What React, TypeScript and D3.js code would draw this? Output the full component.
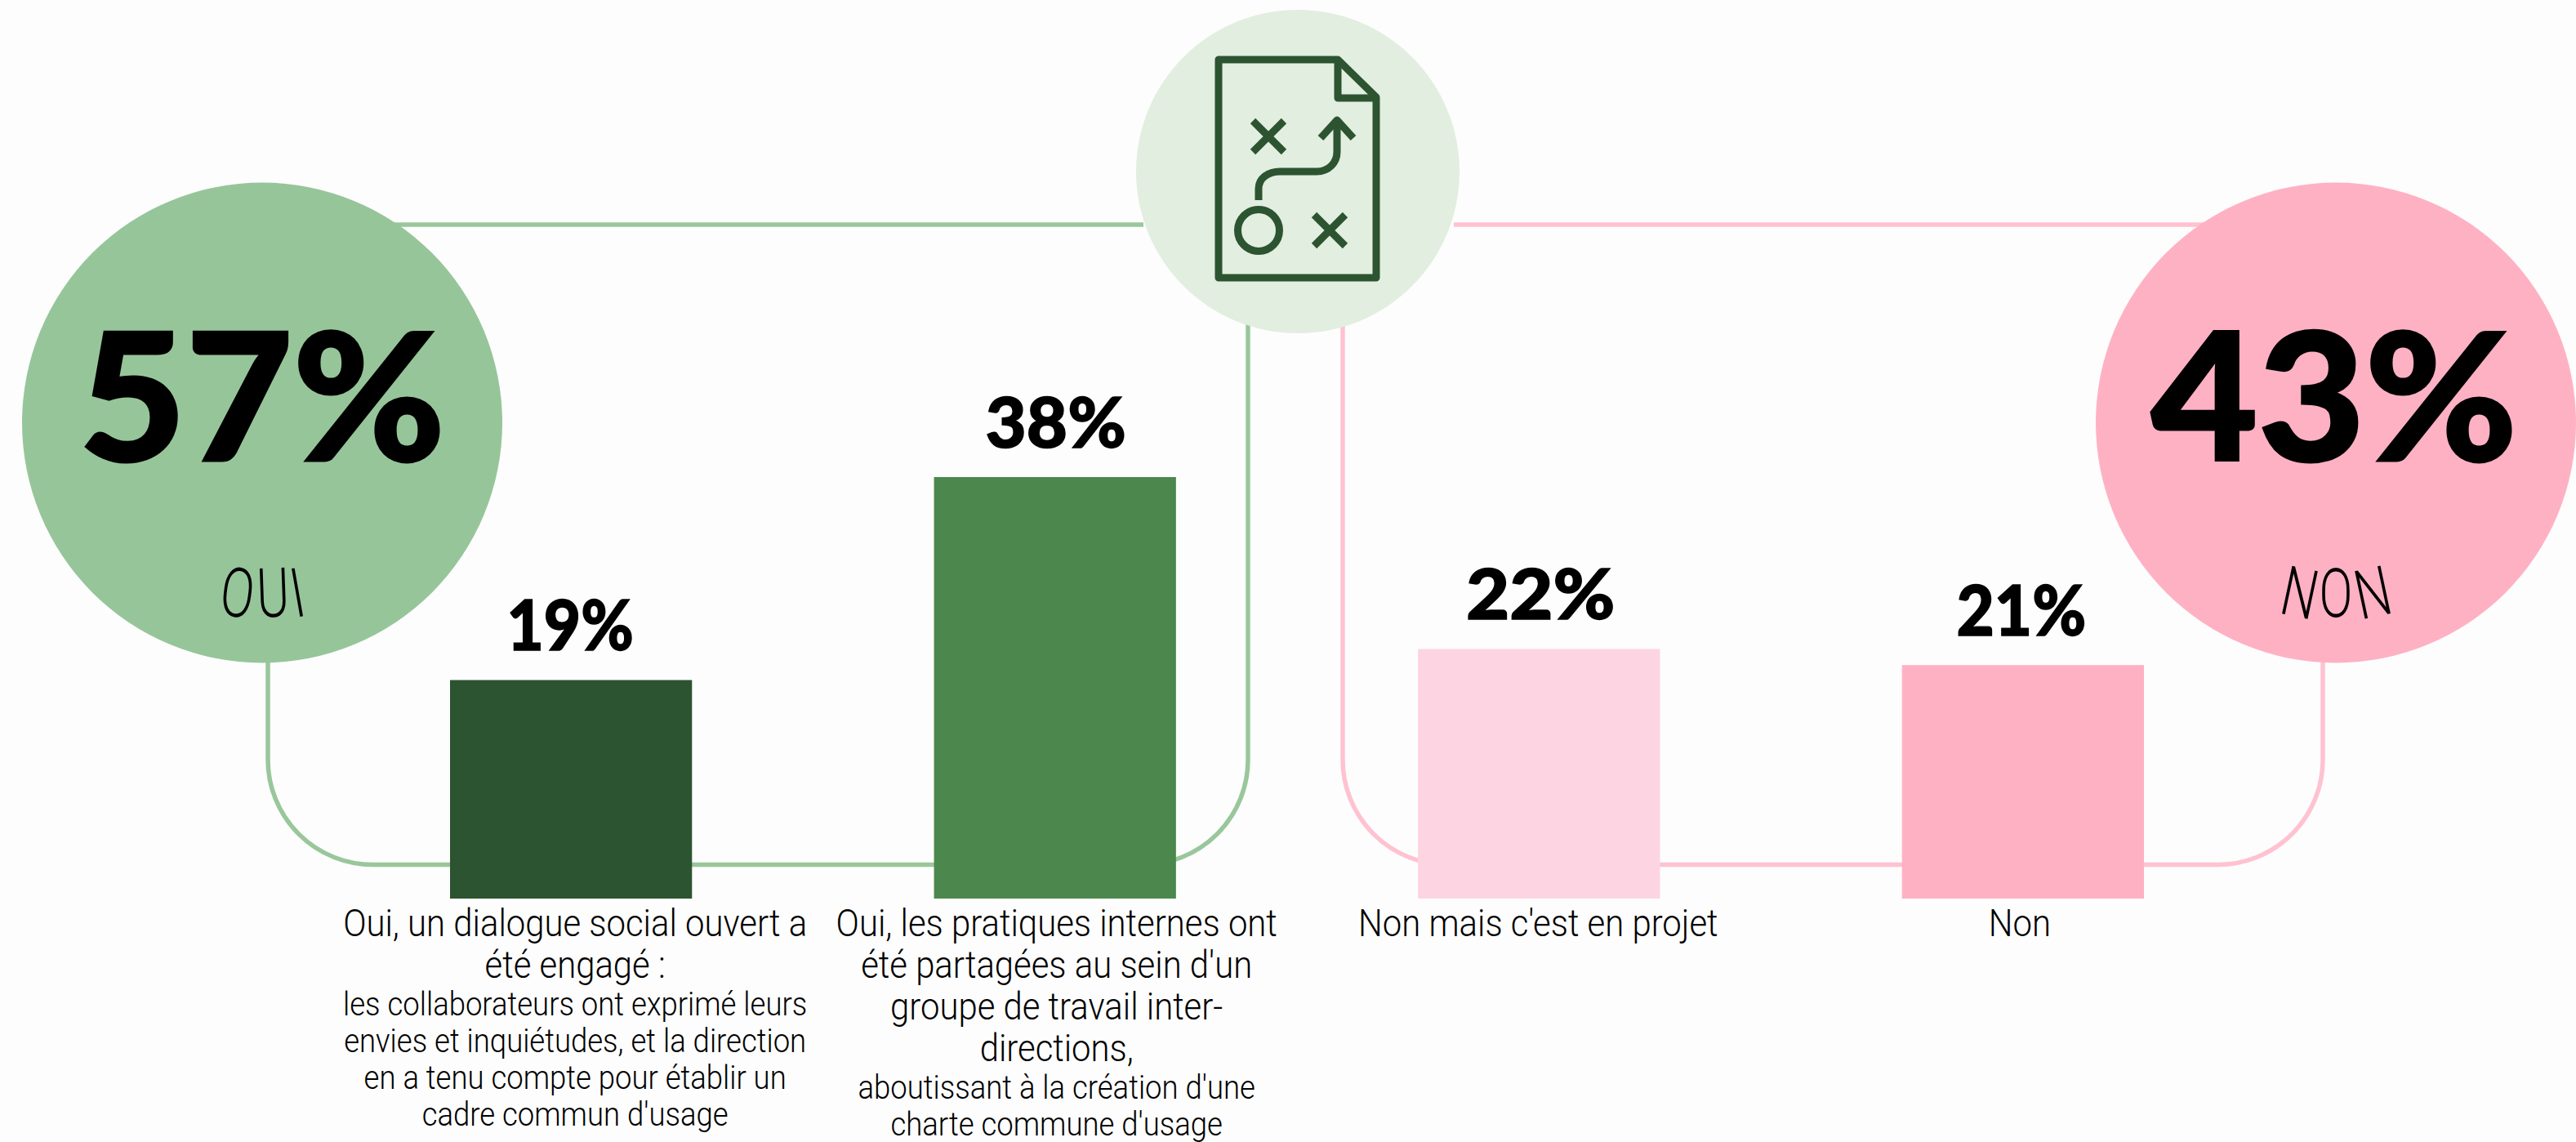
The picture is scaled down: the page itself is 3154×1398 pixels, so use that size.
import React from "react";
import * as d3 from "d3";

// ---- data ----
const groupNames = ["OUI", "NON"];
const groupLabels = ["57%", "43%"];
const barKeys = ["dialogue", "pratiques", "projet", "non"];
const barValues = [19.7, 38, 22.5, 21.05];
const barLabels = ["19%", "38%", "22%", "21%"];
const mainLines = [
  ["Oui, un dialogue social ouvert a", "été engagé :"],
  ["Oui, les pratiques internes ont", "été partagées au sein d'un", "groupe de travail inter-", "directions,"],
  ["Non mais c'est en projet"],
  ["Non"],
];
const detailLines = [
  ["les collaborateurs ont exprimé leurs", "envies et inquiétudes, et la direction", "en a tenu compte pour établir un", "cadre commun d'usage"],
  ["aboutissant à la création d'une", "charte commune d'usage"],
  [],
  [],
];

// ---- style ----
const W = 3154, H = 1398;
const BG = "#FDFDFD";
const barColors = ["#2C5430", "#4C884D", "#FDD5E2", "#FFB1C4"];
const circleColors = ["#97C59A", "#FFB1C4"];
const lineColors = ["#99C79B", "#FFC2D1"];
const HUB = "#E2EEE0", INK = "#2C5430";
const LIGHT = "Roboto, sans-serif";
const HEAVY = "Lato, sans-serif";
const labelDx = [5, 2, -1, -4];
const valueScaleX = [0.92, 1.02, 1.08, 0.94];
const valueDx = [-1, 1, 2, -2];

const x = d3.scaleBand<string>().domain(barKeys).range([551, 2625]).paddingInner(0.5);
const y = d3.scaleLinear().domain([0, 38]).range([1100, 584]);

const greenPath = (() => {
  const p = d3.path();
  p.moveTo(328, 800);
  p.lineTo(328, 930);
  p.arcTo(328, 1058.5, 457, 1058.5, 128.5);
  p.lineTo(1400, 1058.5);
  p.arcTo(1528, 1058.5, 1528, 930, 128.5);
  p.lineTo(1528, 390);
  return p.toString();
})();
const pinkPath = (() => {
  const p = d3.path();
  p.moveTo(1644, 390);
  p.lineTo(1644, 930);
  p.arcTo(1644, 1058.5, 1772, 1058.5, 128.5);
  p.lineTo(2716, 1058.5);
  p.arcTo(2844, 1058.5, 2844, 930, 128.5);
  p.lineTo(2844, 800);
  return p.toString();
})();

function Letter({ ch, cx, rot }: { ch: string; cx: number; rot: number }) {
  return (
    <text transform={`translate(${cx},755) rotate(${rot},0,-30) scale(0.72,1)`} textAnchor="middle"
      fontFamily={LIGHT} fontWeight={300} fontSize={84} fill="#000">{ch}</text>
  );
}

function Icon() {
  return (
    <g fill="none" stroke={INK} strokeWidth={9}>
      <path strokeLinejoin="round" d="M1492 73H1638L1685 119V340H1492Z" />
      <path strokeLinejoin="round" d="M1638 73V120H1685" />
      <path d="M1534 148L1572 186M1572 148L1534 186" />
      <path d="M1609 263L1647 301M1647 263L1609 301" />
      <circle cx={1541} cy={282} r={25.5} />
      <path d="M1541 245V231C1541 218 1553 210 1567 210H1612C1627 210 1637 199 1637 186V148" />
      <path strokeLinejoin="round" d="M1617 169L1637 147L1657 169" />
    </g>
  );
}

export default function App() {
  return (
    <svg width={W} height={H} viewBox={`0 0 ${W} ${H}`}
      style={{ position: "absolute", left: 0, top: 0, background: BG, display: "block" }}>
      <rect width={W} height={H} fill={BG} />

      <g fill="none" strokeWidth={5.5}>
        <path d={greenPath} stroke={lineColors[0]} />
        <path d="M480 275H1400" stroke={lineColors[0]} />
        <path d={pinkPath} stroke={lineColors[1]} />
        <path d="M1780 275H2700" stroke={lineColors[1]} />
      </g>

      <circle cx={321} cy={517.5} r={294} fill={circleColors[0]} />
      <circle cx={2860} cy={517.5} r={294} fill={circleColors[1]} />
      <circle cx={1589} cy={210} r={198} fill={HUB} />
      <Icon />

      <text transform="translate(321,564) scale(1.04,1)" textAnchor="middle" fontFamily={HEAVY} fontWeight={900} fontSize={217} fill="#000" stroke="#000" strokeWidth={3}>{groupLabels[0]}</text>
      <text transform="translate(2858,564) scale(1.04,1)" textAnchor="middle" fontFamily={HEAVY} fontWeight={900} fontSize={217} fill="#000" stroke="#000" strokeWidth={3}>{groupLabels[1]}</text>

      <g aria-label={groupNames[0]}>
        <Letter ch={groupNames[0][0]} cx={291} rot={7} />
        <Letter ch={groupNames[0][1]} cx={334} rot={-2} />
        <Letter ch={groupNames[0][2]} cx={364} rot={-10} />
      </g>
      <g aria-label={groupNames[1]}>
        <Letter ch={groupNames[1][0]} cx={2816} rot={12} />
        <Letter ch={groupNames[1][1]} cx={2860} rot={0} />
        <Letter ch={groupNames[1][2]} cx={2905} rot={-12} />
      </g>

      {barKeys.map((k, i) => {
        const cx = x(k)! + x.bandwidth() / 2;
        let yy = 1146;
        const main = mainLines[i].map((t, j) => {
          const el = (
            <text key={"m" + j} transform={`translate(${cx + labelDx[i]},${yy}) scale(0.91,1)`} textAnchor="middle"
              fontFamily={LIGHT} fontWeight={300} fontSize={46} fill="#000">{t}</text>
          );
          yy += 51;
          return el;
        });
        yy -= 5;
        const detail = detailLines[i].map((t, j) => {
          const el = (
            <text key={"d" + j} transform={`translate(${cx + labelDx[i]},${yy}) scale(0.89,1)`} textAnchor="middle"
              fontFamily={LIGHT} fontWeight={300} fontSize={41} fill="#000">{t}</text>
          );
          yy += 45;
          return el;
        });
        return (
          <g key={k}>
            <rect x={x(k)} y={y(barValues[i])} width={x.bandwidth()} height={y(0) - y(barValues[i])} fill={barColors[i]} />
            <text transform={`translate(${cx + valueDx[i]},${y(barValues[i]) - 36}) scale(${valueScaleX[i]},1)`} textAnchor="middle"
              fontFamily={HEAVY} fontWeight={900} fontSize={85} fill="#000" stroke="#000" strokeWidth={1.5}>{barLabels[i]}</text>
            {main}
            {detail}
          </g>
        );
      })}
    </svg>
  );
}
